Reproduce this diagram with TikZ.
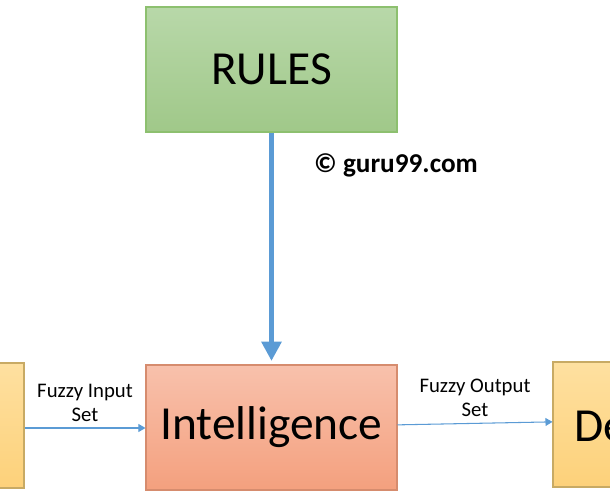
\documentclass[tikz,border=0pt]{standalone}
\usepackage{fontspec}
\setmainfont{Carlito}
\usetikzlibrary{arrows.meta}
\definecolor{flowblue}{HTML}{5B9BD5}
\tikzset{
  block/.style={rectangle, draw, line width=0.6pt, minimum width=5.02cm, minimum height=2.5cm, font=\fontsize{27}{30}\selectfont},
  thinarrow/.style={draw=flowblue, line width=0.6pt, -{Triangle[width=4.5pt,length=4pt]}},
  flowlabel/.style={align=center, font=\fontsize{11.8}{13.6}\selectfont}
}
\begin{document}
\begin{tikzpicture}[x=0.02cm, y=-0.02cm]
  \useasboundingbox (0,0) rectangle (610,497);
  \clip (0,0) rectangle (610,497);
  \node[block, draw={rgb,255:red,141;green,192;blue,111}, top color={rgb,255:red,184;green,216;blue,169}, bottom color={rgb,255:red,160;green,200;blue,137}] (rules) at (271.5,69.5) {RULES};
  \node[block, draw={rgb,255:red,214;green,140;blue,110}, top color={rgb,255:red,248;green,193;blue,172}, bottom color={rgb,255:red,244;green,160;blue,126}] (intel) at (271.5,427.5) {\raisebox{-4pt}{Intelligence}};
  \node[block, draw={rgb,255:red,200;green,170;blue,100}, top color={rgb,255:red,254;green,224;blue,160}, bottom color={rgb,255:red,253;green,209;blue,122}] (fuzzifier) at (-101.5,425.5) {};
  \node[block, draw={rgb,255:red,200;green,170;blue,100}, top color={rgb,255:red,254;green,224;blue,160}, bottom color={rgb,255:red,253;green,209;blue,122}] (defuzz) at (678.5,424.5) {};
  \node[anchor=west, inner sep=0pt, font=\fontsize{27}{30}\selectfont] (detext) at (574,426) {De};

  \node[font=\bfseries\fontsize{15.5}{18}\selectfont] (copy) at (396,165) {© guru99.com};

  \draw[draw=flowblue, line width=3.4pt, -{Triangle[width=11pt,length=11pt]}] (rules.south) -- ([yshift=2]intel.north);
  \draw[thinarrow] (fuzzifier.east |- 0,428) -- node[flowlabel, above=0pt] {Fuzzy Input\\Set} (intel.west |- 0,428);
  \draw[thinarrow] ([yshift=1.5]intel.east) -- node[flowlabel, above=0pt] {Fuzzy Output\\Set} ([yshift=1.5]defuzz.west);
\end{tikzpicture}
\end{document}
